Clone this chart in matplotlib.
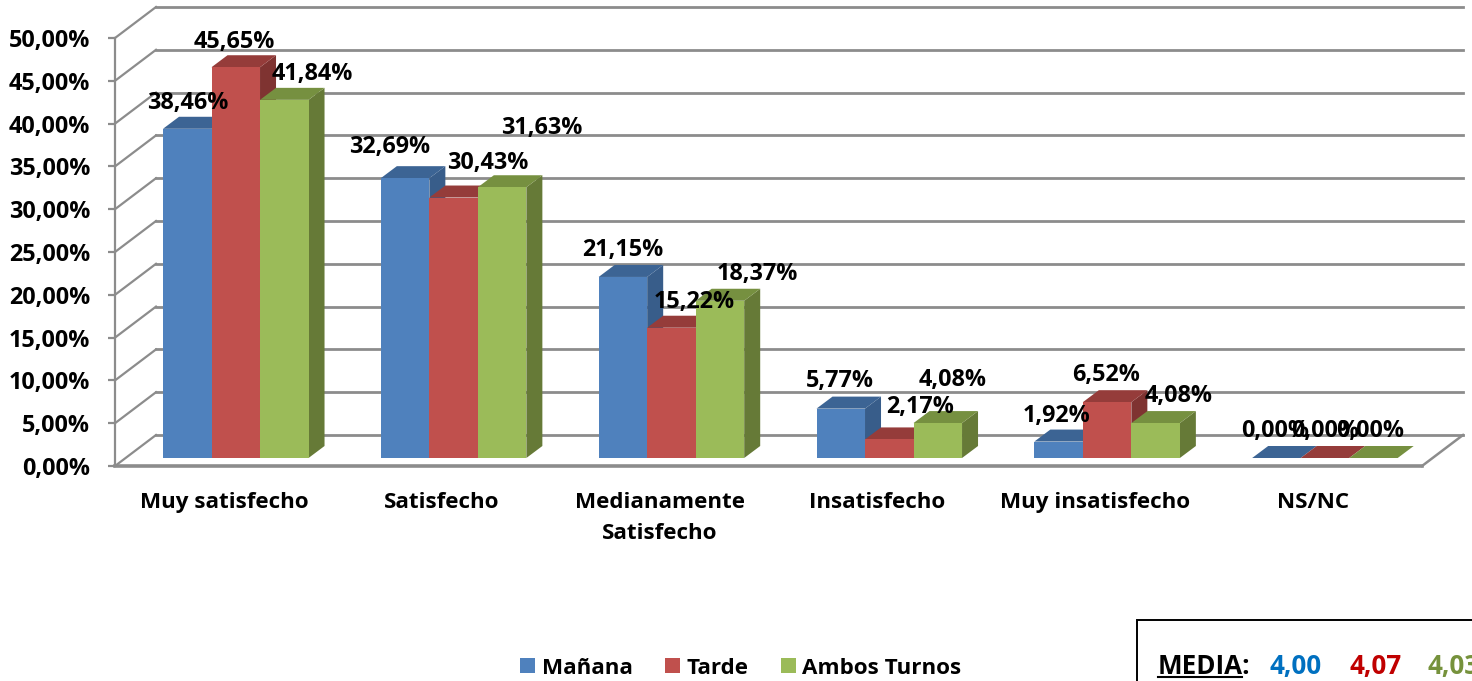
import matplotlib
matplotlib.use('Agg')
import matplotlib.pyplot as plt
from matplotlib.patches import Polygon, Patch, Rectangle
from matplotlib.lines import Line2D

plt.rcParams['font.family'] = ['Open Sans', 'DejaVu Sans']
plt.rcParams['font.weight'] = 'bold'

# data
categories = ['Muy satisfecho', 'Satisfecho', 'Medianamente\nSatisfecho',
              'Insatisfecho', 'Muy insatisfecho', 'NS/NC']
manana = [38.46, 32.69, 21.15, 5.77, 1.92, 0.00]
tarde = [45.65, 30.43, 15.22, 2.17, 6.52, 0.00]
ambos = [41.84, 31.63, 18.37, 4.08, 4.08, 0.00]
series_names = ['Mañana', 'Tarde', 'Ambos Turnos']
media_values = ['4,00', '4,07', '4,03']
y_ticks = [0, 5, 10, 15, 20, 25, 30, 35, 40, 45, 50]

# label offsets in pixels from the top middle of each bar front
manana_off = [(0, 26), (-15, 31), (0, 27), (-1, 28), (-2, 26), (-1, 27)]
tarde_off = [(-1, 25), (34, 35), (23, 26), (31, 32), (-1, 27), (0, 27)]
ambos_off = [(28, 26), (40, 59), (37, 27), (15, 43), (23, 27), (-3, 27)]

W, H = 1472, 681
FS_NUM = 16.8
FS_CAT = 16.1
FS_MEDIA = 18.7
GRID = '#8c8c8c'

# depth of the fake 3d box, in data units (category width / percent)
wall_dx = 41 / 217.8
wall_dy = 31 / 8.56
bar_dx = 16 / 217.8
bar_dy = 12 / 8.56
bar_w = 48.5 / 217.8
bar_start = 48 / 217.8
bar_base = 8 / 8.56

faces = [('#4F81BD', '#3C6494', '#385D8A'),
         ('#C0504D', '#953C3A', '#7F3331'),
         ('#9BBB59', '#769040', '#667A37')]

fig = plt.figure(figsize=(W / 100, H / 100), dpi=100)
ax = fig.add_axes([115 / W, (H - 466) / H, 1307 / W, 428 / H])
ax.set_xlim(0, 6)
ax.set_ylim(0, 50)
ax.patch.set_visible(False)

for s in ['top', 'right']:
    ax.spines[s].set_visible(False)
ax.spines['left'].set_color(GRID)
ax.spines['left'].set_linewidth(1.6)
ax.spines['bottom'].set_color(GRID)
ax.spines['bottom'].set_linewidth(2.6)

# walls
for t in y_ticks:
    ax.plot([0, wall_dx], [t, t + wall_dy], color=GRID, lw=1.6, clip_on=False, zorder=1)
    ax.plot([wall_dx, 6 + wall_dx], [t + wall_dy, t + wall_dy], color=GRID, lw=2.0, clip_on=False, zorder=1)
ax.plot([6, 6 + wall_dx], [0, wall_dy], color=GRID, lw=1.8, clip_on=False, zorder=1)


def draw_bar(x, val, cols):
    y0 = bar_base
    y1 = bar_base + val
    front, top, side = cols
    ax.add_patch(Polygon([(x + bar_w, y0), (x + bar_w + bar_dx, y0 + bar_dy),
                          (x + bar_w + bar_dx, y1 + bar_dy), (x + bar_w, y1)],
                         facecolor=side, edgecolor='none', clip_on=False, zorder=3))
    ax.add_patch(Polygon([(x, y1), (x + bar_dx, y1 + bar_dy),
                          (x + bar_w + bar_dx, y1 + bar_dy), (x + bar_w, y1)],
                         facecolor=top, edgecolor='none', clip_on=False, zorder=3))
    if val > 0:
        ax.add_patch(Rectangle((x, y0), bar_w, val, facecolor=front, edgecolor='none', zorder=3))


all_series = [manana, tarde, ambos]
all_off = [manana_off, tarde_off, ambos_off]
for i in range(len(categories)):
    for j in range(3):
        x = i + bar_start + j * bar_w
        draw_bar(x, all_series[j][i], faces[j])

# labels go after every bar so they sit on top
for i in range(len(categories)):
    for j in range(3):
        x = i + bar_start + j * bar_w
        val = all_series[j][i]
        ax.annotate(f'{val:.2f}%'.replace('.', ','), xy=(x + bar_w / 2, bar_base + val),
                    xytext=all_off[j][i], textcoords='offset pixels', ha='center', va='center',
                    fontsize=FS_NUM, fontweight='bold', color='black', zorder=6, annotation_clip=False)

ax.set_yticks(y_ticks, [f'{t:.2f}%'.replace('.', ',') for t in y_ticks])
ax.set_xticks([i + 0.5 for i in range(6)], categories, linespacing=1.6)
ax.tick_params(axis='y', length=5, width=1.6, color=GRID, pad=13, labelsize=FS_NUM)
ax.tick_params(axis='x', length=0, pad=19, labelsize=FS_CAT)

# legend
handles = [Patch(facecolor=f[0], label=n) for f, n in zip(faces, series_names)]
fig.legend(handles=handles, loc='center left', bbox_to_anchor=(502 / W, 1 - 668 / H), ncol=3,
           frameon=False, fontsize=FS_CAT, handlelength=0.67, handleheight=0.67, handletextpad=0.31,
           columnspacing=1.43, borderpad=0.3)

# media box, runs off the picture
fig.add_artist(Rectangle((1137 / W, -0.05), 500 / W, 0.05 + (H - 620) / H, transform=fig.transFigure,
                         facecolor='white', edgecolor='black', lw=1.4))
fig.text(1158 / W, 1 - 674 / H, 'MEDIA:', fontsize=FS_MEDIA, color='black', va='baseline')
fig.add_artist(Line2D([1158 / W, 1242 / W], [1 - 677 / H, 1 - 677 / H], color='black', lw=1.5))
for val, col, px in zip(media_values, ['#0070C0', '#C00000', '#76923C'], [1270, 1349, 1427]):
    fig.text(px / W, 1 - 674 / H, val, fontsize=FS_MEDIA, color=col, va='baseline')

fig.savefig('out.png', dpi=100)
